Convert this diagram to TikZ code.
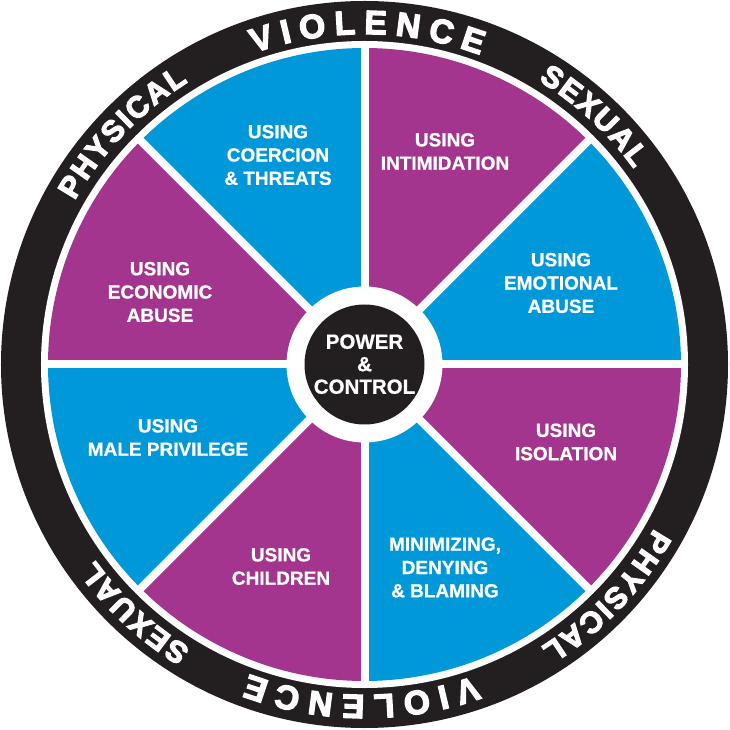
\documentclass[tikz,border=0pt]{standalone}
\usepackage{fontspec}
\setmainfont{Liberation Sans}[BoldFeatures={FakeBold=0.8}]
\newfontfamily\ringfam{Liberation Sans}[BoldFeatures={FakeBold=4}]
\definecolor{wblue}{RGB}{0,152,216}
\definecolor{wpurple}{RGB}{163,53,143}
\definecolor{wblack}{RGB}{35,31,32}
% #1 font size, #2 baseline radius, #3 start angle, #4 end angle, #5 letter/width list, #6 total em, #7 count
\newcommand\ringword[7]{%
  \pgfmathsetmacro\rwgap{((#3-#4)*pi/180*#2 - #6*#1)/(#7-1)}%
  \gdef\rwpos{0}%
  \foreach \ch/\w in {#5}{%
    \pgfmathsetmacro\rwcen{\rwpos + \w*#1/2}%
    \pgfmathsetmacro\rwnext{\rwpos + \w*#1 + \rwgap}%
    \xdef\rwpos{\rwnext}%
    \pgfmathsetmacro\rwang{#3 - \rwcen/#2*180/pi}%
    \node[ringletter, font=\ringfam\bfseries\fontsize{#1}{#1}\selectfont, rotate=\rwang-90] at (\rwang:#2pt) {\ch};
  }%
}
\begin{document}
\begin{tikzpicture}[
  x=1pt, y=1pt,
  seglabel/.style={text=white, font=\fontsize{19}{23.3}\selectfont\bfseries, align=center, inner sep=0pt},
  spoke/.style={white, line width=8pt},
  ringletter/.style={text=white, inner sep=0pt, anchor=base}
]
\useasboundingbox (-364.5pt,-365.5pt) rectangle (365.5pt,364.5pt);
% outer ring
\fill[wblack] (0,0) circle[radius=363.5pt];
\fill[white] (0,0) circle[radius=323.5pt];
% sectors
\foreach \a/\c in {0/wblue,45/wpurple,90/wblue,135/wpurple,180/wblue,225/wpurple,270/wblue,315/wpurple}{
  \fill[\c] (0,0) -- (\a:316.5pt) arc[start angle=\a, delta angle=45, radius=316.5pt] -- cycle;
}
% spokes
\foreach \a in {0,45,...,315}{
  \draw[spoke] (0,0) -- (\a:320pt);
}
% hub
\fill[white] (0,0) circle[radius=78pt];
\node[circle, fill=wblack, minimum size=120pt, inner sep=0pt] (hub) at (0,0) {};
\node[text=white, font=\fontsize{20.5}{22.5}\selectfont\bfseries, align=center, inner sep=0pt] (hubtext) at (0,0.3) {POWER\\\&\\CONTROL};
% labels
\node[seglabel] (coercion) at (-86.5,209.5) {USING\\COERCION\\\& THREATS};
\node[seglabel] (intimidation) at (80.5,213) {USING\\INTIMIDATION};
\node[seglabel] (economic) at (-204.5,72.5) {USING\\ECONOMIC\\ABUSE};
\node[seglabel] (emotional) at (196.5,81.5) {USING\\EMOTIONAL\\ABUSE};
\node[seglabel] (male) at (-196.5,-73) {USING\\MALE PRIVILEGE};
\node[seglabel] (isolation) at (201.5,-77.5) {USING\\ISOLATION};
\node[seglabel] (children) at (-83.5,-202) {USING\\CHILDREN};
\node[seglabel] (minimizing) at (80.5,-203) {MINIMIZING,\\DENYING\\\& BLAMING};
% ring text
\ringword{33.5}{330.5}{109.5}{69.5}{V/0.667,I/0.278,O/0.778,L/0.611,E/0.667,N/0.722,C/0.722,E/0.667}{5.112}{8}
\ringword{33.5}{330.5}{289.5}{249.5}{V/0.667,I/0.278,O/0.778,L/0.611,E/0.667,N/0.722,C/0.722,E/0.667}{5.112}{8}
\ringword{30}{333}{150.5}{122}{P/0.667,H/0.722,Y/0.667,S/0.667,I/0.278,C/0.722,A/0.722,L/0.611}{5.056}{8}
\ringword{30}{333}{-29.5}{-58}{P/0.667,H/0.722,Y/0.667,S/0.667,I/0.278,C/0.722,A/0.722,L/0.611}{5.056}{8}
\ringword{30}{333}{58.5}{36}{S/0.667,E/0.667,X/0.667,U/0.722,A/0.722,L/0.611}{4.056}{6}
\ringword{30}{333}{238.5}{216}{S/0.667,E/0.667,X/0.667,U/0.722,A/0.722,L/0.611}{4.056}{6}
\end{tikzpicture}
\end{document}
